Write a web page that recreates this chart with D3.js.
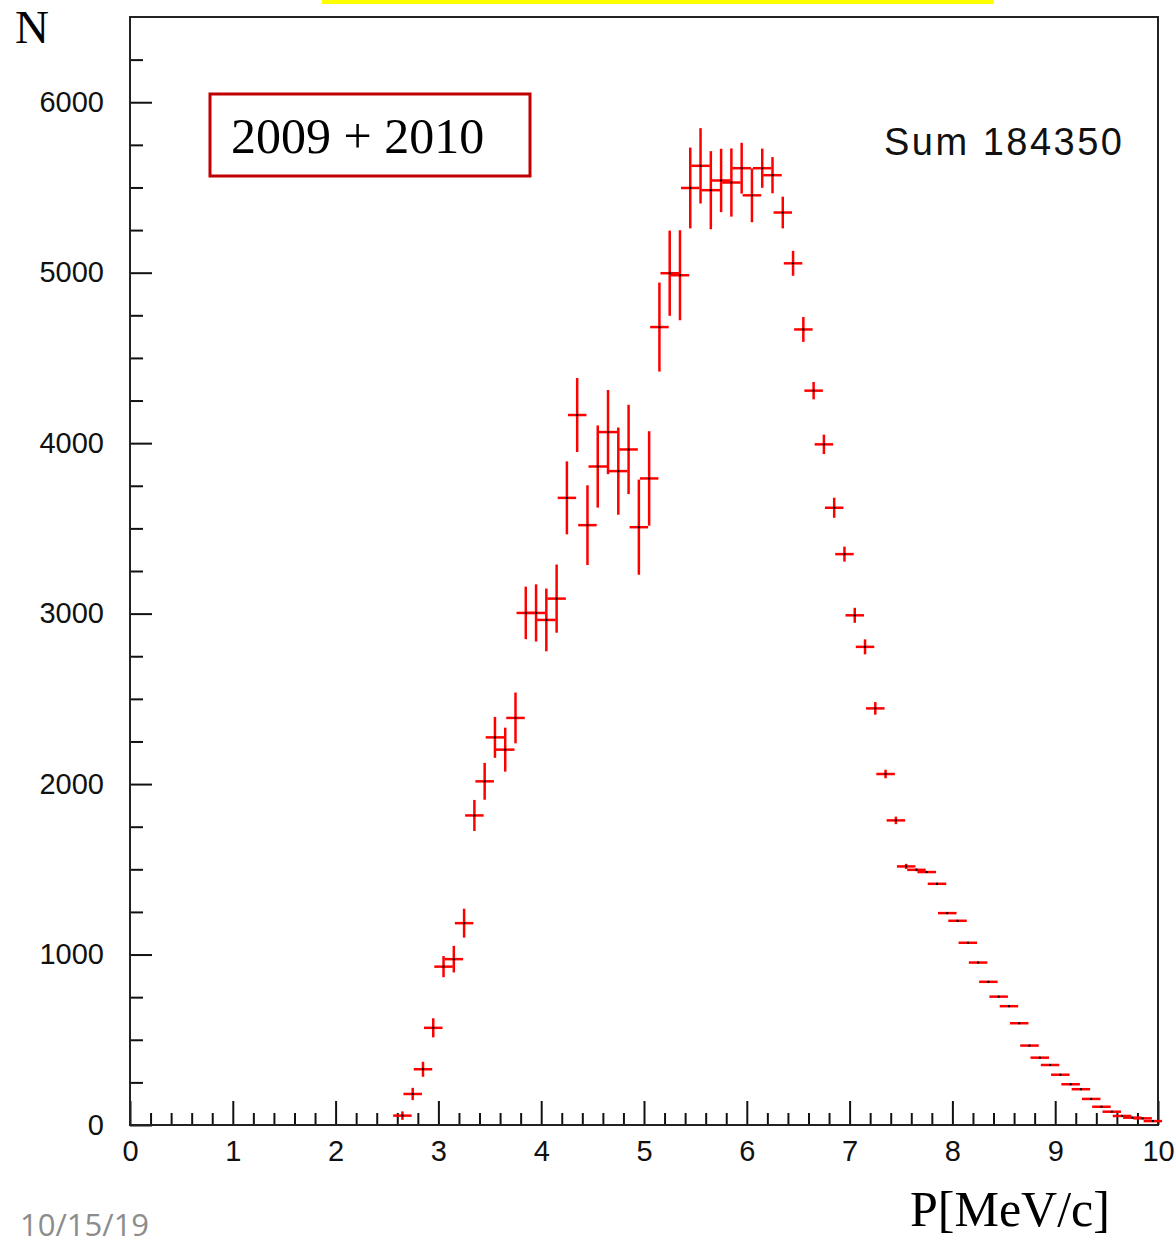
<!DOCTYPE html>
<html>
<head>
<meta charset="utf-8">
<script src="https://cdn.jsdelivr.net/npm/d3@7"></script>
<style>
body{margin:0;background:#fff;}
svg text{font-family:"Liberation Sans",Arial,sans-serif;}
</style>
</head>
<body>
<div id="chart"></div>
<script>

const width = 1176;
const height = 1237;
const margin = {top:17,right:18,bottom:112,left:130};

// bin centers P [MeV/c]
const momentum = [2.65,2.75,2.85,2.95,3.05,3.15,3.25,3.35,3.45,3.55,3.65,3.75,3.85,3.95,
4.05,4.15,4.25,4.35,4.45,4.55,4.65,4.75,4.85,4.95,5.05,5.15,5.25,5.35,5.45,5.55,5.65,
5.75,5.85,5.95,6.05,6.15,6.25,6.35,6.45,6.55,6.65,6.75,6.85,6.95,7.05,7.15,7.25,7.35,
7.45,7.55,7.65,7.75,7.85,7.95,8.05,8.15,8.25,8.35,8.45,8.55,8.65,8.75,8.85,8.95,9.05,
9.15,9.25,9.35,9.45,9.55,9.65,9.75,9.85,9.95];

// entries per bin
const counts = [55,182,327,570,929,973,1184,1816,2016,2274,2202,2388,3004,3004,
2963,3088,3679,4165,3519,3863,4065,3836,3963,3507,3793,4681,4997,4985,5497,5627,5484,
5541,5529,5613,5454,5613,5572,5353,5055,4667,4308,3993,3621,3349,2990,2805,2444,2059,
1787,1517,1497,1484,1415,1243,1198,1069,953,840,753,697,597,466,395,352,295,
239,210,153,107,78,53,43,39,23];

// vertical error per bin
const errors = [25,36,44,56,62,78,85,91,108,120,129,149,154,168,
184,200,214,217,234,241,247,256,262,279,277,261,250,264,237,221,229,
186,200,149,158,115,106,93,73,73,51,57,59,44,44,44,37,25,
22,15,8,5,4,3,3,3,3,3,3,3,3,3,3,3,3,
3,3,3,3,3,3,3,3,3];

const xMajor = [0,1,2,3,4,5,6,7,8,9,10];
const xMinor = [0.2,0.4,0.6,0.8,1.2,1.4,1.6,1.8,2.2,2.4,2.6,2.8,3.2,3.4,3.6,3.8,
4.2,4.4,4.6,4.8,5.2,5.4,5.6,5.8,6.2,6.4,6.6,6.8,7.2,7.4,7.6,7.8,8.2,8.4,8.6,8.8,
9.2,9.4,9.6,9.8];
const yMajor = [0,1000,2000,3000,4000,5000,6000];
const yMinor = [250,500,750,1250,1500,1750,2250,2500,2750,3250,3500,3750,
4250,4500,4750,5250,5500,5750,6250];

const data = momentum.map((p,i)=>({p:p,n:counts[i],e:errors[i]}));

const svg = d3.select("#chart")
.append("svg")
.attr("width",width)
.attr("height",height);

const x = d3.scaleLinear()
.domain([0,10])
.range([margin.left,width-margin.right]);

const y = d3.scaleLinear()
.domain([0,6500])
.range([height-margin.bottom,margin.top]);

// YELLOW STRIP
svg.append("rect")
.attr("x",322).attr("y",0)
.attr("width",672).attr("height",4)
.attr("fill","#ffff00");

// X AXIS (ticks point inside)
svg.append("g")
.attr("transform",`translate(0,${y(0)})`)
.call(d3.axisBottom(x).tickValues(xMajor).tickSize(-24).tickPadding(15).tickFormat(d3.format("d")));

svg.append("g")
.attr("transform",`translate(0,${y(0)})`)
.call(d3.axisBottom(x).tickValues(xMinor).tickSize(-12).tickFormat(""));

// Y AXIS
svg.append("g")
.attr("transform",`translate(${x(0)},0)`)
.call(d3.axisLeft(y).tickValues(yMajor).tickSize(-22).tickPadding(26).tickFormat(d3.format("d")));

svg.append("g")
.attr("transform",`translate(${x(0)},0)`)
.call(d3.axisLeft(y).tickValues(yMinor).tickSize(-13).tickFormat(""));

svg.selectAll(".domain").remove();
svg.selectAll(".tick line").attr("stroke","#111").attr("stroke-width",2);
svg.selectAll(".tick text")
.attr("fill","#111")
.style("font-size","29px")
.style("font-family","'Liberation Sans',Arial,sans-serif");

// FRAME
svg.append("rect")
.attr("x",x(0))
.attr("y",y(6500))
.attr("width",x(10)-x(0))
.attr("height",y(0)-y(6500))
.attr("fill","none")
.attr("stroke","#222")
.attr("stroke-width",2);

// ERROR BARS
const pts = svg.append("g");
const halfBin = 0.09;

pts.selectAll(".ev")
.data(data)
.enter()
.append("line")
.attr("x1",d=>x(d.p)).attr("x2",d=>x(d.p))
.attr("y1",d=>y(d.n-d.e)).attr("y2",d=>y(d.n+d.e))
.attr("stroke","#ff0000")
.attr("stroke-width",2.5);

pts.selectAll(".eh")
.data(data)
.enter()
.append("line")
.attr("x1",d=>x(d.p-halfBin)).attr("x2",d=>x(d.p+halfBin))
.attr("y1",d=>y(d.n)).attr("y2",d=>y(d.n))
.attr("stroke","#ff0000")
.attr("stroke-width",2.5);

// POINTS
pts.selectAll("rect")
.data(data)
.enter()
.append("rect")
.attr("x",d=>x(d.p)-1)
.attr("y",d=>y(d.n)-1)
.attr("width",2)
.attr("height",2)
.attr("fill","#000");

// STATS
svg.append("text")
.attr("x",884)
.attr("y",155)
.style("font-size","38px")
.style("letter-spacing","2.5px")
.attr("fill","#111")
.text("Sum 184350");

// LABEL BOX
svg.append("rect")
.attr("x",210).attr("y",94)
.attr("width",320).attr("height",82)
.attr("fill","none")
.attr("stroke","#c00000")
.attr("stroke-width",3);

svg.append("text")
.attr("x",231)
.attr("y",153)
.style("font-family","'Liberation Serif','Times New Roman',serif")
.style("font-size","50px")
.attr("fill","#000")
.text("2009 + 2010");

// Y LABEL
svg.append("text")
.attr("x",15)
.attr("y",43)
.style("font-family","'Liberation Serif','Times New Roman',serif")
.style("font-size","47px")
.attr("fill","#000")
.text("N");

// X LABEL
svg.append("text")
.attr("x",910)
.attr("y",1226)
.style("font-family","'Liberation Serif','Times New Roman',serif")
.style("font-size","50px")
.attr("fill","#000")
.text("P[MeV/c]");

// DATE
svg.append("text")
.attr("x",20)
.attr("y",1236)
.style("font-family","'Open Sans',sans-serif")
.style("font-size","31px")
.attr("fill","#8c8c8c")
.text("10/15/19");

</script>
</body>
</html>
